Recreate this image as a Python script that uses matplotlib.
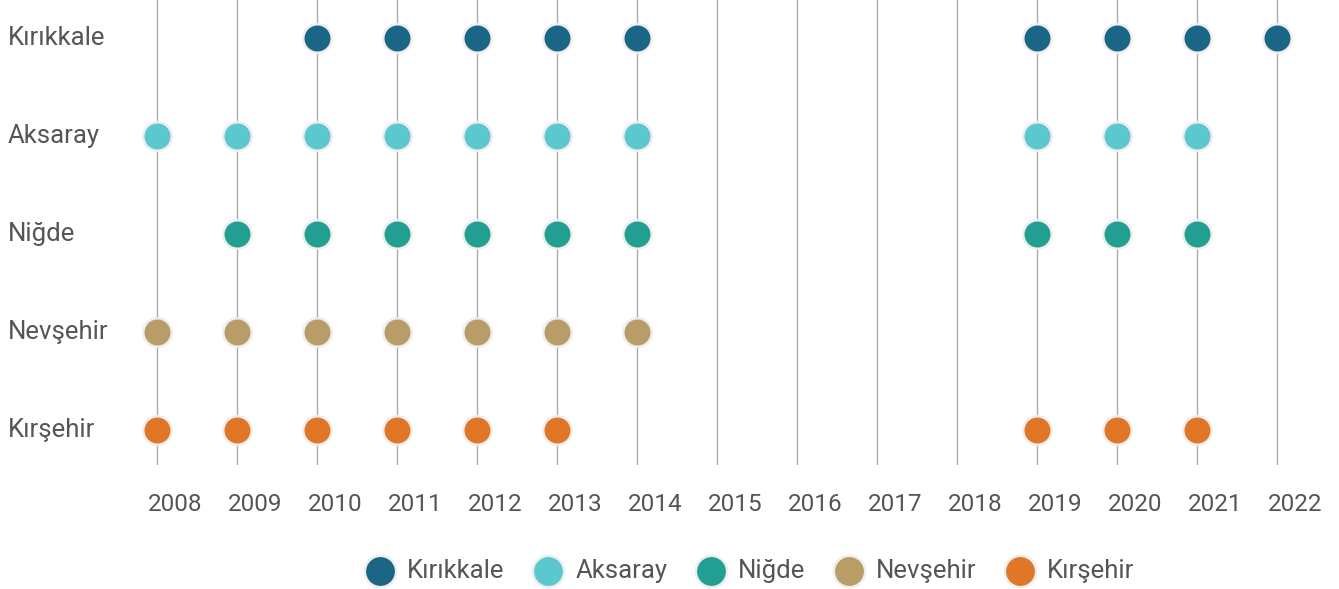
import matplotlib
matplotlib.use('Agg')
import matplotlib.pyplot as plt
import matplotlib.transforms as mtransforms

years = list(range(2008, 2023))
provinces = ['Kırıkkale', 'Aksaray', 'Niğde', 'Nevşehir', 'Kırşehir']
colors = ['#1c6685', '#5bc8d0', '#239e92', '#b99d66', '#e07726']

kirikkale = [2010, 2011, 2012, 2013, 2014, 2019, 2020, 2021, 2022]
aksaray = [2008, 2009, 2010, 2011, 2012, 2013, 2014, 2019, 2020, 2021]
nigde = [2009, 2010, 2011, 2012, 2013, 2014, 2019, 2020, 2021]
nevsehir = [2008, 2009, 2010, 2011, 2012, 2013, 2014]
kirsehir = [2008, 2009, 2010, 2011, 2012, 2013, 2019, 2020, 2021]
series = [kirikkale, aksaray, nigde, nevsehir, kirsehir]

txt = '#555555'
plt.rcParams['font.family'] = ['Roboto', 'DejaVu Sans']

fig = plt.figure(figsize=(13.39, 5.89), dpi=100)
ax = fig.add_axes([0, 0.2105, 1, 0.7895])

ax.set_xlim(-157 / 80, (1339 - 157) / 80)
ax.set_ylim(-0.357, 4.388)

handles = []
trans = mtransforms.blended_transform_factory(fig.transFigure, ax.transData)
for i, (name, yrs, c) in enumerate(zip(provinces, series, colors)):
	xs = [years.index(y) for y in yrs]
	row = len(provinces) - 1 - i
	h = ax.scatter(xs, [row] * len(xs), s=420, color=c, edgecolor='#eeeeee',
				   linewidth=1.8, zorder=3, label=name)
	handles.append(h)
	ax.text(8 / 1339, row + 0.005, name, transform=trans, ha='left', va='center',
			fontsize=18.5, color=txt)

ax.set_xticks(range(len(years)))
ax.set_xticklabels([str(y) for y in years], fontsize=17.5, color=txt)
ax.tick_params(axis='x', length=0, pad=20)
# labels sit a bit right of their lines in the original
shift = mtransforms.ScaledTranslation(18 / 100, 0, fig.dpi_scale_trans)
for lab in ax.get_xticklabels():
	lab.set_transform(lab.get_transform() + shift)
ax.set_yticks([])
ax.grid(axis='x', color='#aaaaaa', linewidth=1)
ax.set_axisbelow(True)
for s in ax.spines.values():
	s.set_visible(False)

leg = fig.legend(handles=handles, loc='center', bbox_to_anchor=(0.556, 0.031),
				 ncol=5, frameon=False, fontsize=18.5, handletextpad=0.05,
				 columnspacing=0.7, markerscale=1.1)
for t in leg.get_texts():
	t.set_color(txt)

fig.savefig('out.png', dpi=100)
